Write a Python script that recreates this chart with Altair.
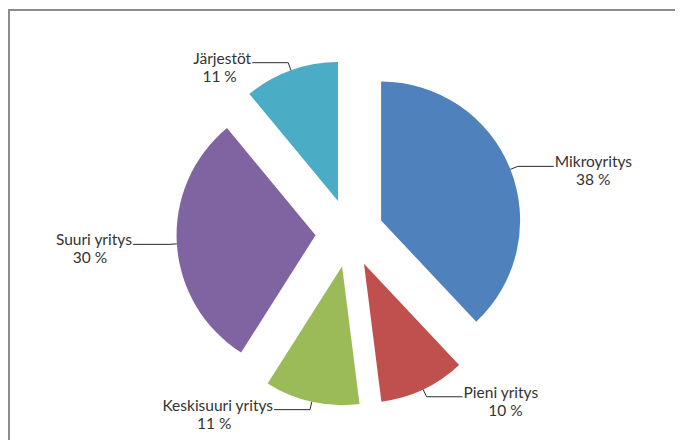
import math
import altair as alt
import pandas as pd

# ---- data ----
categories = ["Mikroyritys", "Pieni yritys", "Keskisuuri yritys", "Suuri yritys", "Järjestöt"]
shares = [38, 10, 11, 30, 11]
colors = ["#4F81BD", "#C0504D", "#9BBB59", "#8064A2", "#4BACC6"]

# ---- layout ----
W, H = 667, 432          # plot area (page minus 8px margins)
R = 139                   # pie radius in px
CX, CY = 341.5, 225       # pie centre in px (view coordinates)
EXPLODE = 34 / R          # slice explosion, in radius units
EXT = 8 / R               # radial part of leader line
HOR = 36 / R              # horizontal part of leader line
CHARW = 6.8               # approx. glyph width for centring the % line
FONT = "Lato"
FS = 15.5
TXT = "#333333"

df = pd.DataFrame({"name": categories, "share": shares, "order": list(range(len(categories)))})

xs = alt.Scale(domain=[-CX / R, (W - CX) / R], range=[0, W])
ys = alt.Scale(domain=[-(H - CY) / R, CY / R], range=[H, 0])

base = (
    alt.Chart(df)
    .transform_window(cum="sum(share)", sort=[alt.SortField("order")], frame=[None, 0])
    .transform_joinaggregate(total="sum(share)")
    .transform_calculate(a0="(datum.cum - datum.share) / datum.total * 2 * PI")
    .transform_calculate(a1="datum.cum / datum.total * 2 * PI")
    .transform_calculate(mid="(datum.a0 + datum.a1) / 2")
    .transform_calculate(pct="format(datum.share / datum.total * 100, '.0f') + ' %'")
    .transform_calculate(cx=f"{EXPLODE} * sin(datum.mid)")
    .transform_calculate(cy=f"{EXPLODE} * cos(datum.mid)")
    .transform_calculate(side="sin(datum.mid) >= 0 ? 1 : -1")
    .transform_calculate(ax="datum.cx + sin(datum.mid)")
    .transform_calculate(ay="datum.cy + cos(datum.mid)")
    .transform_calculate(ex=f"datum.cx + {1 + EXT} * sin(datum.mid)")
    .transform_calculate(ey=f"datum.cy + {1 + EXT} * cos(datum.mid)")
    .transform_calculate(hx=f"datum.ex + datum.side * {HOR}")
    .transform_calculate(px=f"datum.hx + datum.side * (length(datum.name) * {CHARW} / 2 + 2) / {R}")
)

arcs = base.mark_arc(radius=R).encode(
    x=alt.X("cx:Q", scale=xs, axis=None),
    y=alt.Y("cy:Q", scale=ys, axis=None),
    theta=alt.Theta("a0:Q", scale=None),
    theta2="a1:Q",
    color=alt.Color("name:N", scale=alt.Scale(domain=categories, range=colors), legend=None),
)

lead1 = base.mark_rule(color="#2a2a2a", strokeWidth=1).encode(
    x=alt.X("ax:Q", scale=xs, axis=None),
    y=alt.Y("ay:Q", scale=ys, axis=None),
    x2="ex:Q",
    y2="ey:Q",
)
lead2 = base.mark_rule(color="#2a2a2a", strokeWidth=1).encode(
    x=alt.X("ex:Q", scale=xs, axis=None),
    y=alt.Y("ey:Q", scale=ys, axis=None),
    x2="hx:Q",
)

name_r = base.transform_filter("datum.side > 0").mark_text(
    align="left", baseline="alphabetic", dx=1, dy=1, font=FONT, fontSize=FS, color=TXT
).encode(
    x=alt.X("hx:Q", scale=xs, axis=None),
    y=alt.Y("ey:Q", scale=ys, axis=None),
    text="name:N",
)
name_l = base.transform_filter("datum.side < 0").mark_text(
    align="right", baseline="alphabetic", dx=-1, dy=1, font=FONT, fontSize=FS, color=TXT
).encode(
    x=alt.X("hx:Q", scale=xs, axis=None),
    y=alt.Y("ey:Q", scale=ys, axis=None),
    text="name:N",
)
pct = base.mark_text(
    align="center", baseline="alphabetic", dy=19, font=FONT, fontSize=FS, color=TXT
).encode(
    x=alt.X("px:Q", scale=xs, axis=None),
    y=alt.Y("ey:Q", scale=ys, axis=None),
    text="pct:N",
)

frame_df = pd.DataFrame({"k": [0]})
frame_top = alt.Chart(frame_df).mark_rule(color="#8c8c8c", strokeWidth=2).encode(
    x=alt.value(0), x2=alt.value(W), y=alt.value(2)
)
frame_left = alt.Chart(frame_df).mark_rule(color="#8c8c8c", strokeWidth=2).encode(
    x=alt.value(1), y=alt.value(1), y2=alt.value(H)
)

chart = (
    alt.layer(frame_top, frame_left, arcs, lead1, lead2, name_r, name_l, pct)
    .properties(width=W, height=H, autosize=alt.AutoSizeParams(type="none"), padding=0)
    .configure_view(stroke=None)
)

chart.save("out.html", embed_options={"renderer": "svg", "actions": False})
